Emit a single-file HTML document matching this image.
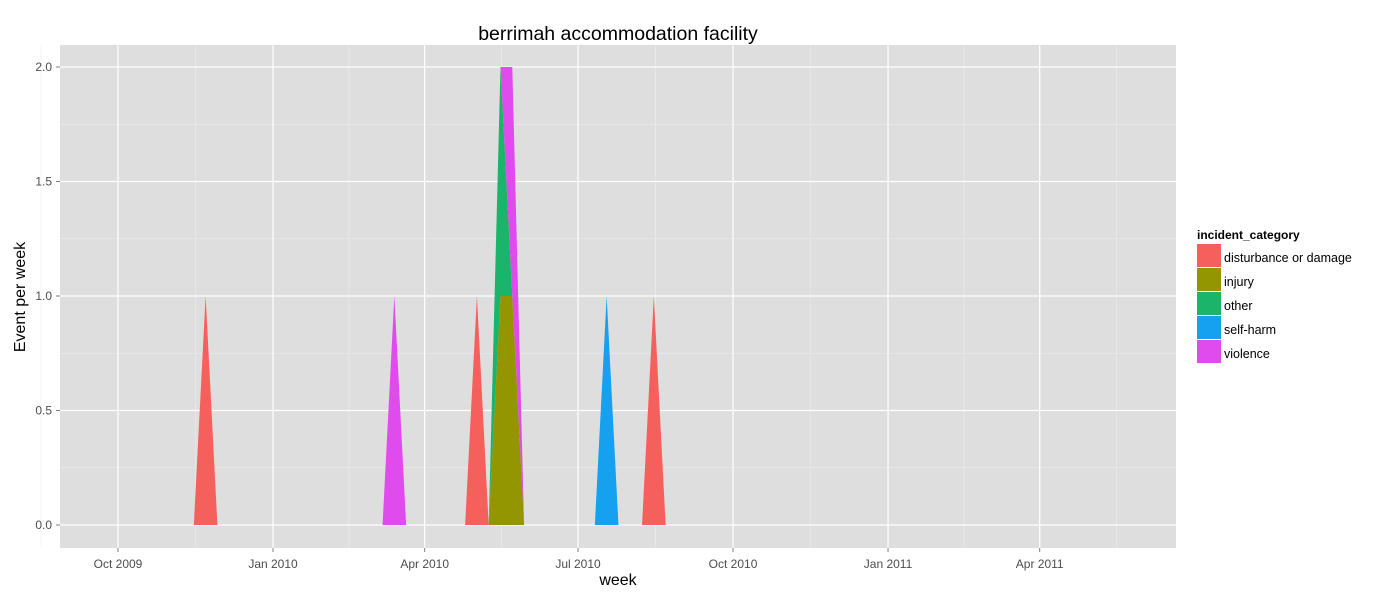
<!DOCTYPE html>
<html><head><meta charset="utf-8"><style>
body{margin:0;background:#fff;font-family:"Liberation Sans",Arial,sans-serif;}
</style></head><body>
<svg id="chart" width="1400" height="600" xmlns="http://www.w3.org/2000/svg"></svg>
<script>
const categories=["disturbance or damage","injury","other","self-harm","violence"];
const colors=["#F5605C","#949600","#1AB46A","#16A0F0","#E04BEE"];
const weeks=["2009-11-15","2009-11-22","2009-11-29","2010-03-07","2010-03-14","2010-03-21","2010-04-25","2010-05-02","2010-05-09","2010-05-16","2010-05-23","2010-05-30","2010-07-11","2010-07-18","2010-07-25","2010-08-08","2010-08-15","2010-08-22"];
const disturbance=[0,1,0,0,0,0,0,1,0,0,0,0,0,0,0,0,1,0];
const injury=     [0,0,0,0,0,0,0,0,0,1,1,0,0,0,0,0,0,0];
const other=      [0,0,0,0,0,0,0,0,0,1,0,0,0,0,0,0,0,0];
const selfharm=   [0,0,0,0,0,0,0,0,0,0,0,0,0,1,0,0,0,0];
const violence=   [0,0,0,0,1,0,0,0,0,0,1,0,0,0,0,0,0,0];
const yTicks=[0,0.5,1,1.5,2];
const yTickLabels=["0.0","0.5","1.0","1.5","2.0"];
const xTicks=["2009-10-01","2010-01-01","2010-04-01","2010-07-01","2010-10-01","2011-01-01","2011-04-01"];
const xTickLabels=["Oct 2009","Jan 2010","Apr 2010","Jul 2010","Oct 2010","Jan 2011","Apr 2011"];

const NS="http://www.w3.org/2000/svg";
const svg=document.getElementById('chart');
const L=60,R=1176,T=45,B=548;
const d0=Date.UTC(2009,9,1);
function x(s){const p=s.split('-');return 118+(Date.UTC(+p[0],+p[1]-1,+p[2])-d0)/86400000*1.685;}
function y(v){return 525-v*229;}
function el(t,a,p){const e=document.createElementNS(NS,t);for(const k in a)e.setAttribute(k,a[k]);(p||svg).appendChild(e);return e;}

const bg=el('rect',{x:L,y:T,width:R-L,height:B-T,fill:'#DEDEDE'});


for(let i=0;i<yTicks.length-1;i++){const v=(yTicks[i]+yTicks[i+1])/2;el('line',{x1:L,x2:R,y1:y(v),y2:y(v),stroke:'#EDEDED','stroke-width':0.6});}
for(let i=0;i<xTicks.length;i++){const a=x(xTicks[i]);const b=i<xTicks.length-1?x(xTicks[i+1]):a+154;const m=(a+b)/2;if(m<R)el('line',{x1:m,x2:m,y1:T,y2:B,stroke:'#EDEDED','stroke-width':0.6});}
const mpre=x(xTicks[0])-77;el('line',{x1:mpre,x2:mpre,y1:T,y2:B,stroke:'#EDEDED','stroke-width':0.6});
yTicks.forEach((v,i)=>{
 el('line',{x1:L,x2:R,y1:y(v),y2:y(v),stroke:'#fff','stroke-width':1.2});
 el('line',{x1:L-4,x2:L,y1:y(v),y2:y(v),stroke:'#7f7f7f'});
 const t=el('text',{x:L-8,y:y(v)+4,'text-anchor':'end','font-size':12,fill:'#4D4D4D'});t.textContent=yTickLabels[i];
 
 
});
xTicks.forEach((s,i)=>{
 const xx=x(s);
 el('line',{x1:xx,x2:xx,y1:T,y2:B,stroke:'#fff','stroke-width':1.2});
 el('line',{x1:xx,x2:xx,y1:B,y2:B+4,stroke:'#7f7f7f'});
 const t=el('text',{x:xx,y:B+20,'text-anchor':'middle','font-size':12,fill:'#4D4D4D'});t.textContent=xTickLabels[i];
 
 
});
const series=[disturbance,injury,other,selfharm,violence];
const cum=weeks.map(()=>0);
series.forEach((s,k)=>{
 const lo=cum.slice();
 s.forEach((v,i)=>cum[i]+=v);
 let pts=weeks.map((w,i)=>x(w)+','+y(cum[i]));
 for(let i=weeks.length-1;i>=0;i--)pts.push(x(weeks[i])+','+y(lo[i]));
 const p=el('polygon',{points:pts.join(' '),fill:colors[k]});
 
 
});
let t=el('text',{x:618,y:40,'text-anchor':'middle','font-size':19.5,fill:'#000'});t.textContent='berrimah accommodation facility';


t=el('text',{x:618,y:585,'text-anchor':'middle','font-size':16,fill:'#000'});t.textContent='week';


t=el('text',{x:0,y:0,'text-anchor':'middle','font-size':16,fill:'#000',transform:'translate(25,297) rotate(-90)'});t.textContent='Event per week';


t=el('text',{x:1197,y:239,'font-size':12,'font-weight':'bold',fill:'#000'});t.textContent='incident_category';


categories.forEach((c,k)=>{
 const g=el('g',{});
 
 
 el('rect',{x:1197,y:244+k*24,width:24,height:23,fill:colors[k]},g);
 const tx=el('text',{x:1224,y:262+k*24,'font-size':12.5,fill:'#000'},g);tx.textContent=c;
});
</script>
</body></html>
